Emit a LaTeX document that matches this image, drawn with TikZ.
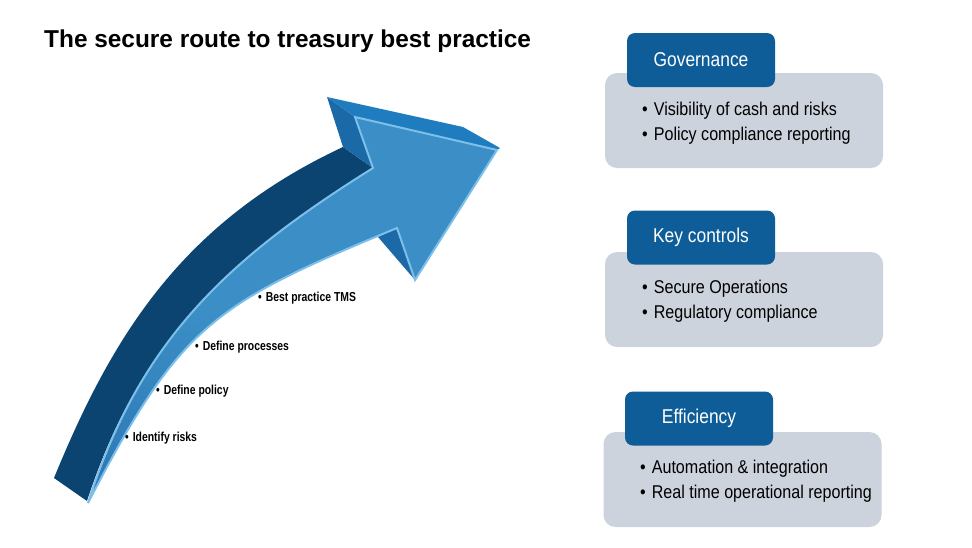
\documentclass[tikz,border=0pt]{standalone}
\usepackage{fontspec}
\setmainfont{Liberation Sans}
\newfontfamily\condf[FakeStretch=0.87]{Liberation Sans}
\newfontfamily\narrowf[FakeStretch=0.8]{Liberation Sans}
\definecolor{navy}{HTML}{0B4470}
\definecolor{faceblue}{HTML}{3B8EC6}
\definecolor{facedark}{HTML}{2C76B4}
\definecolor{headtop}{HTML}{1F7CBF}
\definecolor{headback}{HTML}{1B69A6}
\definecolor{rimblue}{HTML}{7CC0EA}
\definecolor{tabblue}{HTML}{0E5C98}
\definecolor{greybox}{HTML}{CDD3DC}
\begin{document}
\begin{tikzpicture}[x=1pt,y=-1pt,
  panel/.style={fill=greybox, rounded corners=12pt, minimum width=278pt, minimum height=95pt, inner sep=0pt},
  tab/.style={fill=tabblue, rounded corners=8pt, minimum width=148pt, minimum height=54pt, inner sep=0pt, text=white, font=\condf\fontsize{20}{22}\selectfont},
  items/.style={anchor=west, align=left, inner sep=0pt, font=\condf\fontsize{18.5}{25}\selectfont},
  steplabel/.style={anchor=west, inner sep=0pt, font=\narrowf\bfseries\fontsize{13}{15}\selectfont}
]
\useasboundingbox[fill=white] (0,0) rectangle (972,547);

% title
\node[anchor=west, inner sep=0pt, font=\bfseries\fontsize{24.4}{28}\selectfont] (title) at (44,41) {The secure route to treasury best practice};

% arrow shaft side (navy)
\fill[navy] (54,478) .. controls (111,339) and (180,223) .. (343,147)
  -- (373,168) .. controls (229,258) and (140,339) .. (87,501) -- cycle;
% head back side
\fill[headback] (327,97) -- (355,117) -- (373,168) -- (343,147) -- cycle;
% head top side
\fill[headtop] (327,97) -- (463,127) -- (500,148) -- (497,150) -- (355,117) -- cycle;
% head lower side
\fill[headback] (378,237) -- (397,228) -- (415,280) -- cycle;
% front face
\path[shade, top color=faceblue, bottom color=facedark, middle color=faceblue, draw=rimblue, line width=2pt, line join=miter]
  (373,168) -- (355,117) -- (497,150) -- (415,280) -- (397,228)
  .. controls (213,304) and (180,325) .. (88,503)
  .. controls (140,339) and (229,258) .. (373,168) -- cycle;

% step labels
\node[steplabel] (s1) at (125,438) {\textbullet\hspace{4pt}Identify risks};
\node[steplabel] (s2) at (156,391) {\textbullet\hspace{4pt}Define policy};
\node[steplabel] (s3) at (195,347) {\textbullet\hspace{4pt}Define processes};
\node[steplabel] (s4) at (258,298) {\textbullet\hspace{4pt}Best practice TMS};

% panels
\node[panel] (gov) at (744,120.5) {};
\node[tab] (govtab) at (701,60) {Governance};
\node[items] (govtxt) at (642,123) {\textbullet\hspace{6pt}Visibility of cash and risks\\\textbullet\hspace{6pt}Policy compliance reporting};

\node[panel] (key) at (744,299.5) {};
\node[tab] (keytab) at (701,237.5) {Key controls};
\node[items] (keytxt) at (642,301) {\textbullet\hspace{6pt}Secure Operations\\\textbullet\hspace{6pt}Regulatory compliance};

\node[panel] (eff) at (742.5,479.5) {};
\node[tab] (efftab) at (699,418.5) {Efficiency};
\node[items] (efftxt) at (640,481) {\textbullet\hspace{6pt}Automation \& integration\\\textbullet\hspace{6pt}Real time operational reporting};
\end{tikzpicture}
\end{document}
